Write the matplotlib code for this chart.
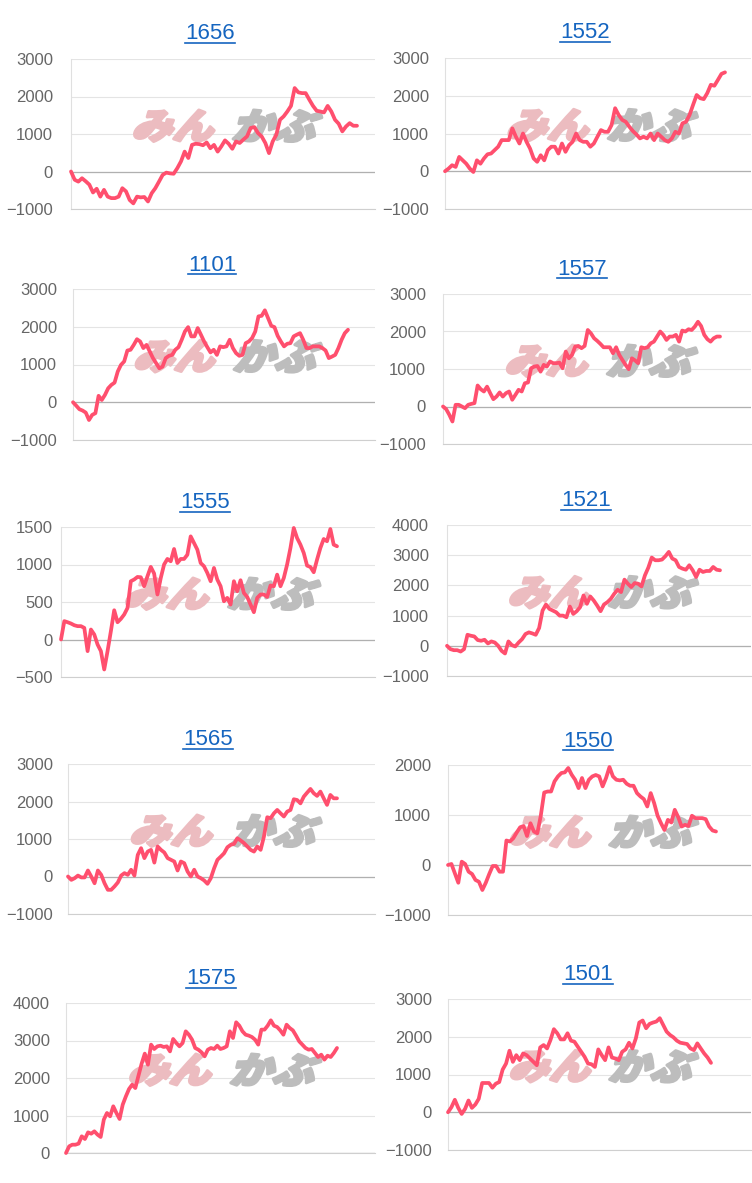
import numpy as np
import matplotlib
matplotlib.use('Agg')
import matplotlib.pyplot as plt
from matplotlib.textpath import TextPath
from matplotlib.patches import PathPatch
from matplotlib.font_manager import FontProperties
from matplotlib.transforms import Affine2D
from matplotlib.lines import Line2D

codes = ['1656', '1552', '1101', '1557', '1555', '1521', '1565', '1550', '1575', '1501']

# y axis (min, max, step) per chart
y_ranges = [(-1000, 3000, 1000), (-1000, 3000, 1000), (-1000, 3000, 1000), (-1000, 3000, 1000),
            (-500, 1500, 500), (-1000, 4000, 1000), (-1000, 3000, 1000), (-1000, 2000, 1000),
            (0, 4000, 1000), (-1000, 3000, 1000)]

pnl_1656 = [0, -220, -270, -180, -260, -350, -560, -460, -670, -490, -670, -710, -710, -670, -445, -530,
            -760, -850, -670, -690, -680, -800, -580, -445, -270, -90, -30, -50, -60, 90, 270, 530, 360,
            710, 740, 730, 700, 775, 620, 710, 530, 670, 830, 740, 605, 800, 760, 850, 935, 1160, 1185,
            1025, 935, 760, 490, 800, 980, 1380, 1470, 1600, 1750, 2225, 2110, 2090, 2090, 1915, 1750,
            1620, 1600, 1575, 1750, 1600, 1380, 1275, 1070, 1200, 1290, 1220, 1220]
pnl_1552 = [0, 70, 160, 115, 380, 290, 200, 70, -20, 290, 200, 340, 450, 470, 560, 650, 825, 825, 825,
            1135, 915, 735, 1000, 780, 600, 340, 250, 425, 290, 560, 650, 650, 470, 735, 515, 690, 780,
            1000, 825, 780, 780, 650, 735, 915, 1090, 1045, 1045, 1225, 1670, 1490, 1360, 1310, 1180,
            1065, 975, 870, 915, 870, 1000, 825, 1000, 915, 825, 780, 870, 1045, 1000, 1270, 1310, 1490,
            1760, 2020, 1935, 1910, 2070, 2290, 2265, 2420, 2580, 2620]
pnl_1101 = [0, -90, -185, -220, -275, -470, -335, -290, 170, 60, 195, 370, 460, 520, 815, 990, 1080, 1370,
            1390, 1520, 1670, 1610, 1435, 1520, 1345, 1170, 1035, 900, 945, 1170, 1230, 1255, 1390, 1460,
            1655, 1875, 1990, 1745, 1745, 1965, 1790, 1610, 1460, 1320, 1390, 1255, 1480, 1460, 1480,
            1655, 1435, 1300, 1230, 1255, 1565, 1610, 1700, 1875, 2275, 2290, 2435, 2230, 2025, 1990,
            1760, 1610, 1480, 1550, 1565, 1745, 1790, 1830, 1655, 1435, 1435, 1480, 1480, 1480, 1435,
            1370, 1170, 1210, 1255, 1435, 1655, 1830, 1920]
pnl_1557 = [0, -70, -220, -400, 45, 45, 0, -45, 45, 70, 90, 560, 460, 400, 530, 355, 195, 265, 375, 265,
            355, 400, 180, 310, 445, 400, 620, 640, 1020, 1065, 1080, 930, 1110, 1065, 1200, 1155, 1155,
            1170, 1020, 1465, 1285, 1375, 1600, 1615, 1555, 1615, 2040, 1950, 1820, 1750, 1670, 1580,
            1580, 1580, 1420, 1580, 1375, 1240, 1110, 995, 1285, 1230, 1155, 1580, 1555, 1580, 1685, 1730,
            1865, 2000, 1910, 1775, 1865, 1865, 1910, 1730, 2025, 2000, 2060, 2040, 2130, 2260, 2145,
            1910, 1795, 1730, 1820, 1865, 1865]
pnl_1555 = [0, 245, 230, 213, 190, 178, 178, 155, -155, 133, 67, -67, -155, -400, -155, 111, 390, 230, 275,
            333, 420, 777, 800, 834, 830, 710, 843, 968, 880, 600, 820, 1000, 1074, 1043, 1207, 1020,
            1074, 1074, 1130, 1375, 1287, 1198, 1020, 977, 888, 777, 954, 800, 710, 510, 555, 466, 777,
            643, 790, 620, 568, 466, 364, 555, 600, 600, 568, 720, 710, 865, 710, 820, 1000, 1220, 1487,
            1353, 1265, 1154, 985, 967, 897, 1065, 1220, 1340, 1310, 1473, 1265, 1243]
pnl_1521 = [0, -110, -145, -145, -190, -110, 365, 333, 310, 190, 167, 200, 78, 145, 110, 0, -167, -255, 145,
            22, -22, 110, 220, 390, 445, 410, 365, 590, 1167, 1367, 1222, 1167, 1110, 1000, 1000, 945,
            1300, 1055, 1145, 1278, 1667, 1390, 1633, 1500, 1333, 1145, 1367, 1445, 1555, 1722, 1855,
            1778, 2190, 2055, 1945, 2078, 2055, 1967, 2333, 2590, 2922, 2833, 2833, 2855, 2967, 3110,
            2890, 2833, 2610, 2555, 2520, 2667, 2500, 2278, 2520, 2445, 2478, 2478, 2610, 2520, 2500]
pnl_1565 = [0, -90, -45, 25, -25, -25, 160, 0, -180, 160, 45, -180, -355, -355, -265, -160, 25, 90, 45, 180,
            25, 575, 755, 490, 665, 710, 370, 800, 710, 640, 490, 445, 400, 160, 400, 355, 133, 0, 180, 0,
            -45, -105, -195, -45, 220, 445, 530, 620, 780, 845, 870, 1020, 960, 890, 800, 710, 665, 800,
            710, 1065, 1580, 1555, 1685, 1775, 1685, 1600, 1730, 1775, 2060, 2040, 1950, 2130, 2235, 2335,
            2220, 2150, 2265, 2085, 1910, 2175, 2085, 2085]
pnl_1550 = [0, 20, -167, -355, 67, 20, -134, -180, -300, -335, -500, -355, -180, -20, -20, -134, -134, 490,
            470, 535, 650, 755, 780, 580, 835, 670, 635, 985, 1450, 1470, 1470, 1672, 1772, 1840, 1853,
            1940, 1805, 1705, 1538, 1740, 1538, 1705, 1772, 1800, 1772, 1572, 1740, 1960, 1772, 1705,
            1692, 1705, 1625, 1585, 1585, 1438, 1371, 1318, 1170, 1438, 1238, 985, 835, 700, 903, 850,
            1104, 956, 770, 803, 780, 985, 937, 937, 937, 917, 770, 690, 670]
pnl_1575 = [0, 178, 222, 222, 250, 445, 373, 550, 515, 578, 490, 427, 890, 1067, 978, 1245, 1067, 907, 1290,
            1510, 1707, 1822, 1733, 2062, 2382, 2650, 2355, 2890, 2773, 2845, 2862, 2827, 2845, 2710,
            3040, 2933, 2845, 2933, 3245, 3155, 3022, 2800, 2755, 2685, 2578, 2755, 2800, 2773, 2862,
            2773, 2800, 2845, 3245, 3067, 3485, 3395, 3245, 3155, 3130, 3093, 3022, 2890, 3290, 3290,
            3395, 3538, 3395, 3360, 3270, 3155, 3422, 3333, 3270, 3130, 2978, 2890, 2800, 2755, 2773,
            2667, 2560, 2622, 2490, 2595, 2560, 2667, 2800]
pnl_1501 = [0, 134, 330, 116, -45, 89, 311, 116, 205, 356, 775, 775, 775, 650, 757, 800, 1130, 1290, 1630,
            1335, 1513, 1380, 1558, 1513, 1424, 1335, 1246, 1718, 1780, 1690, 1913, 2200, 2092, 1930,
            1930, 2092, 1896, 1870, 1735, 1602, 1468, 1290, 1272, 1200, 1665, 1513, 1380, 1718, 1450,
            1424, 1380, 1602, 1665, 1842, 1690, 1958, 2376, 2430, 2225, 2340, 2376, 2403, 2492, 2314,
            2136, 2047, 1985, 1896, 1842, 1825, 1807, 1690, 1646, 1825, 1690, 1558, 1450, 1308]

series = [pnl_1656, pnl_1552, pnl_1101, pnl_1557, pnl_1555, pnl_1521, pnl_1565, pnl_1550, pnl_1575, pnl_1501]

W, H = 752, 1183
LINE_COLOR = '#ff4f6e'
LINK_COLOR = '#1565c0'

# pixel layout: left, right, top, bottom, line end, tick label right edge, title x, title baseline
layout = [
    (71, 375, 59, 209, 357, 53, 210, 39.3),
    (445, 751, 58, 209, 725, 429, 585, 38.3),
    (73, 375, 289, 440, 348, 57, 212, 270.7),
    (443, 751, 294, 444, 720, 426, 582, 275),
    (61, 375, 527, 677, 337, 53, 205, 508.3),
    (447, 751, 525, 676, 720, 429, 586, 506),
    (68, 375, 764, 914, 337, 53, 208, 745),
    (448, 751, 765, 915, 716, 431, 588, 746.7),
    (66, 375, 1003, 1153, 337, 50, 211, 984),
    (448, 751, 999, 1150, 711, 432, 588, 980),
]


def add_watermark(ax):
    # faint logo behind the line, drawn as outlined glyphs
    fp = FontProperties(family='Noto Sans CJK JP', weight='heavy')
    for txt, color, x0, x1 in (('みん', '#ecbcc0', 0.20, 0.49), ('かぶ', '#bdbdbd', 0.53, 0.83)):
        tp = TextPath((0, 0), txt, size=1, prop=fp)
        bb = tp.get_extents()
        tr = (Affine2D().translate(-bb.x0, -bb.y0).scale(1 / bb.width / 1.12, 1 / bb.height)
              .skew(np.arctan(0.12), 0).scale(x1 - x0, 0.21).translate(x0, 0.45) + ax.transAxes)
        ax.add_artist(PathPatch(tp, transform=tr, fc=color, ec=color, lw=2.2, joinstyle='round',
                                zorder=1.5))


def plot_panel(fig, values, code, yr, lay):
    left, right, top, bottom, end, lab_right, tx, ty = lay
    ax = fig.add_axes([left / W, 1 - bottom / H, (right - left) / W, (bottom - top) / H])
    x = np.arange(len(values))
    xmax = (len(values) - 1) * (right - left) / (end - left)
    ymin, ymax, step = yr

    ax.set_xlim(0, xmax)
    ax.set_ylim(ymin, ymax)
    ax.set_yticks(np.arange(ymin, ymax + 1, step))
    ax.set_xticks([])
    ax.tick_params(axis='y', length=0, pad=(left - lab_right) * 0.72, labelsize=12, labelcolor='#666666')
    ax.yaxis.grid(True, color='#e4e4e4', lw=0.8, zorder=1)
    ax.set_axisbelow(True)
    for s in ('top', 'right'):
        ax.spines[s].set_visible(False)
    ax.spines['left'].set_color('#e0e0e0')
    ax.spines['left'].set_linewidth(0.8)
    ax.spines['bottom'].set_color('#cfcfcf')
    ax.spines['bottom'].set_linewidth(0.8)
    ax.axhline(0, color='#b0b0b0', lw=0.9, zorder=1.2)

    add_watermark(ax)
    ax.plot(x, values, color=LINE_COLOR, lw=2.7, solid_joinstyle='round', solid_capstyle='round',
            zorder=3, clip_on=False)

    t = fig.text(tx / W, 1 - ty / H, code, ha='center', va='baseline', fontsize=16, color=LINK_COLOR)
    return t


if __name__ == '__main__':
    plt.rcParams['font.family'] = ['Liberation Sans', 'DejaVu Sans']
    fig = plt.figure(figsize=(W / 100, H / 100), dpi=100)

    titles = []
    for values, code, yr, lay in zip(series, codes, y_ranges, layout):
        titles.append((plot_panel(fig, values, code, yr, lay), lay[7]))

    # underline the titles like links
    fig.canvas.draw()
    renderer = fig.canvas.get_renderer()
    for t, base in titles:
        bb = t.get_window_extent(renderer)
        yu = 1 - (base + 3.5) / H
        fig.add_artist(Line2D([bb.x0 / W, bb.x1 / W], [yu, yu], transform=fig.transFigure,
                              color=LINK_COLOR, lw=1.2))

    fig.savefig('out.png', dpi=100)
